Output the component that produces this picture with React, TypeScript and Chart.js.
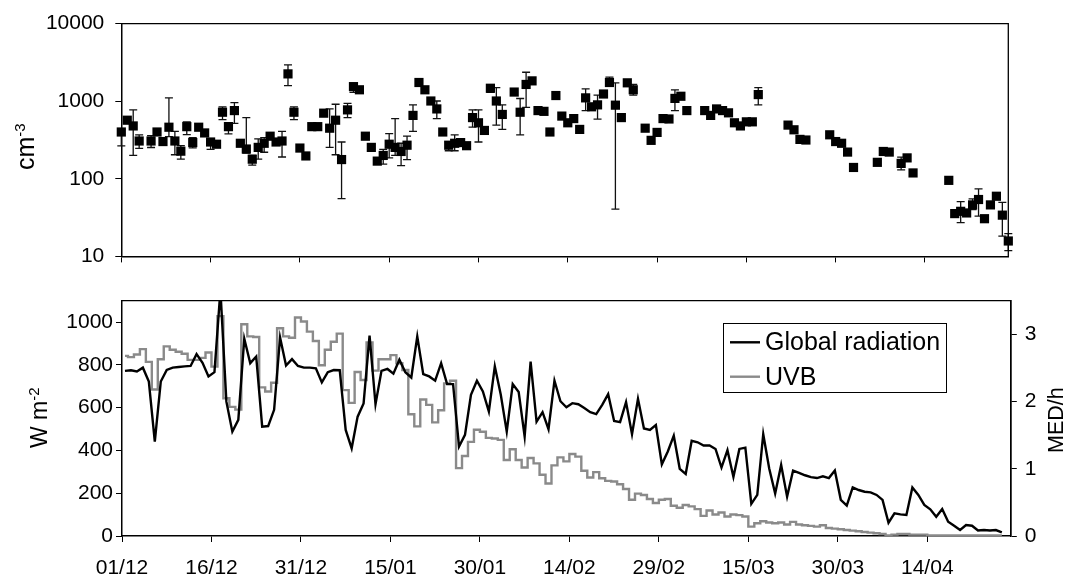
import React, { useEffect, useRef } from 'react';
import { Chart, registerables } from 'chart.js';

Chart.register(...registerables);

const FONT = "'Liberation Sans', Arial, Helvetica, sans-serif";
Chart.defaults.font.family = FONT;

// ---- x axis: days counted from 01/12 ----
const tickDays = [0, 15, 30, 45, 60, 75, 90, 105, 120, 135];
const tickLabels = ['01/12', '16/12', '31/12', '15/01', '30/01', '14/02', '29/02', '15/03', '30/03', '14/04'];
const xMaxDay = 149;

// ---- y axes ----
const concTicks = [10, 100, 1000, 10000];
const concTickLabels = ['10', '100', '1000', '10000'];
const radTicks = [0, 200, 400, 600, 800, 1000];
const radTickLabels = ['0', '200', '400', '600', '800', '1000'];
const uvbTicks = [0, 1, 2, 3];
const uvbTickLabels = ['0', '1', '2', '3'];

// ---- axis titles / legend ----
const concTitle = ['cm', '-3'];
const radTitle = ['W m', '-2'];
const uvbTitle = 'MED/h';
const seriesLabels = ['Global radiation', 'UVB'];

// ---- top panel: concentration (cm-3) ----
const concDays = [0, 1, 2, 3, 5, 6, 7, 8, 9, 10, 11, 12, 13, 14, 15, 16, 17, 18, 19, 20,
  21, 22, 23, 24, 25, 26, 27, 28, 29, 30, 31, 32, 33, 34, 35, 36, 37, 38, 39, 40,
  41, 42, 43, 44, 45, 46, 47, 48, 49, 50, 51, 52, 53, 54, 55, 56, 57, 58, 59, 60,
  61, 62, 63, 64, 66, 67, 68, 69, 70, 71, 72, 73, 74, 75, 76, 77, 78, 79, 80, 81,
  82, 83, 84, 85, 86, 88, 89, 90, 91, 92, 93, 94, 95, 98, 99, 100, 101, 102, 103, 104,
  105, 106, 107, 112, 113, 114, 115, 119, 120, 121, 122, 123, 127, 128, 129, 131, 132, 133, 139, 140,
  141, 142, 143, 144, 145, 146, 147, 148, 149];
const concValues = [401, 569, 480, 307, 307, 401, 302, 462, 307, 227, 470, 293, 462, 390, 298, 279, 721, 470, 757, 287,
  242, 179, 254, 287, 354, 298, 307, 2249, 721, 249, 197, 470, 470, 701, 449, 569, 177, 773, 1541, 1403,
  354, 254, 169, 200, 279, 254, 225, 271, 656, 1742, 1403, 1006, 795, 401, 271, 287, 293, 267, 615, 527,
  420, 1469, 1006, 675, 1312, 721, 1644, 1828, 757, 740, 401, 1183, 643, 527, 597, 433, 1104, 847, 897, 1238,
  1742, 889, 615, 1725, 1403, 449, 313, 396, 597, 590, 1086, 1158, 757, 757, 656, 795, 757, 708, 527, 480,
  542, 542, 1217, 492, 428, 322, 316, 369, 302, 287, 221, 140, 163, 225, 221, 158, 186, 119, 95.5, 35.6,
  38.1, 36.3, 46.1, 54.1, 30.6, 46.1, 59.6, 34, 15.8];

// error bars (day, lower, upper)
const errDays = [0, 2, 3, 5, 8, 9, 10, 11, 12, 15, 17, 18, 19, 21, 22, 23, 24, 27, 28, 29,
  35, 36, 37, 38, 39, 44, 45, 46, 47, 48, 49, 53, 55, 56, 59, 60, 62, 63, 64, 67,
  68, 70, 78, 80, 82, 83, 86, 93, 107, 131, 141, 143, 144, 148, 149];
const errLow = [266, 200, 247, 253, 350, 204, 179, 370, 250, 240, 580, 380, 518, 215, 150, 179, 220, 191, 1585, 580,
  254, 204, 55.6, 615, 1300, 155, 186, 200, 148, 177, 408, 597, 230, 230, 462, 298, 1300, 492, 433, 369,
  833, 700, 757, 587, 1600, 40.6, 1200, 757, 897, 130, 27.3, 40, 33, 18.3, 11.9];
const errHigh = [430, 773, 369, 360, 1104, 408, 267, 542, 340, 330, 847, 530, 957, 615, 200, 326, 340, 408, 2938, 847,
  795, 913, 298, 935, 1650, 240, 382, 597, 287, 354, 897, 1006, 300, 369, 773, 773, 1550, 1496, 897, 1084,
  2360, 800, 1444, 1194, 2046, 1725, 1650, 1403, 1496, 190, 50.7, 55, 74, 49.7, 19.6];

// ---- bottom panel: daily values from 01/12 ----
const radiation = [772, 775, 769, 787, 722, 441, 722, 776, 787, 790,
  793, 795, 850, 810, 746, 766, 1150, 628, 488, 543,
  922, 808, 839, 511, 514, 590, 928, 797, 827, 795,
  787, 787, 784, 718, 766, 776, 775, 496, 410, 558,
  620, 937, 616, 772, 781, 759, 824, 766, 741, 933,
  757, 746, 726, 808, 710, 710, 418, 473, 660, 726,
  676, 582, 793, 660, 488, 710, 673, 465, 815, 535,
  579, 499, 726, 630, 602, 621, 616, 598, 579, 570,
  613, 663, 538, 532, 626, 476, 641, 503, 496, 519,
  335, 395, 469, 314, 290, 445, 438, 423, 423, 407,
  320, 401, 276, 407, 413, 150, 192, 476, 316, 199,
  332, 184, 306, 295, 284, 275, 271, 279, 271, 306,
  169, 142, 227, 215, 207, 204, 192, 169, 62, 106,
  101, 98, 227, 192, 145, 125, 90, 126, 67, 48,
  28, 51, 48, 26, 28, 26, 28, 17];
const uvb = [2.68, 2.66, 2.70, 2.78, 2.59, 2.18, 2.63, 2.82, 2.77, 2.74,
  2.71, 2.62, 2.62, 2.65, 2.73, 2.52, 3.27, 2.05, 1.92, 1.88,
  3.15, 2.97, 2.96, 2.21, 2.15, 2.28, 3.09, 2.97, 2.95, 3.25,
  3.19, 3.04, 2.90, 2.54, 2.77, 2.89, 3.01, 2.17, 1.98, 2.44,
  2.32, 2.88, 2.46, 2.63, 2.63, 2.69, 2.57, 2.47, 1.81, 1.63,
  2.03, 1.95, 1.69, 1.87, 2.27, 2.31, 1.01, 1.19, 1.40, 1.58,
  1.55, 1.46, 1.45, 1.43, 1.13, 1.29, 1.13, 1.02, 1.16, 1.08,
  0.91, 0.78, 1.05, 1.17, 1.11, 1.22, 1.18, 0.97, 0.87, 0.95,
  0.86, 0.82, 0.81, 0.77, 0.70, 0.54, 0.63, 0.61, 0.55, 0.49,
  0.54, 0.55, 0.45, 0.42, 0.46, 0.44, 0.40, 0.30, 0.38, 0.32,
  0.35, 0.29, 0.32, 0.31, 0.29, 0.14, 0.19, 0.22, 0.20, 0.19,
  0.20, 0.17, 0.21, 0.17, 0.16, 0.15, 0.14, 0.16, 0.12, 0.11,
  0.10, 0.09, 0.08, 0.07, 0.06, 0.05, 0.04, 0.03, 0.01, 0.02,
  0.03, 0.03, 0.02, 0.02, 0.02, 0.01, 0.01, 0.01, 0.01, 0.01,
  0.01, 0.01, 0.01, 0.01, 0.01, 0.01, 0.01, 0.01];

const RAD_COLOR = '#000000';
const UVB_COLOR = '#8a8a8a';

const axisGrid = { drawOnChartArea: false, drawTicks: true, tickLength: 6, color: '#000', lineWidth: 1 };
const axisBorder = { display: true, color: '#000', width: 1.5 };

function labelFrom(values: number[], labels: string[]) {
  return (v: any) => {
    const k = values.indexOf(Number(v));
    return k >= 0 ? labels[k] : '';
  };
}

function drawRotatedTitle(ctx: CanvasRenderingContext2D, parts: string[], baseX: number, startY: number, size: number, supSize: number, raise: number) {
  ctx.save();
  ctx.translate(baseX, startY);
  ctx.rotate(-Math.PI / 2);
  ctx.fillStyle = '#000';
  ctx.textBaseline = 'alphabetic';
  ctx.textAlign = 'left';
  let x = 0;
  parts.forEach((p, i) => {
    const sup = i > 0;
    ctx.font = `${sup ? supSize : size}px ${FONT}`;
    ctx.fillText(p, x, sup ? -raise : 0);
    x += ctx.measureText(p).width;
  });
  ctx.restore();
}

const framePlugin = {
  id: 'frameBox',
  afterDraw(chart: any) {
    const { ctx, chartArea: a } = chart;
    ctx.save();
    ctx.strokeStyle = '#000';
    ctx.lineWidth = 1.3;
    ctx.beginPath();
    ctx.moveTo(a.left, a.top);
    ctx.lineTo(a.right, a.top);
    ctx.lineTo(a.right, a.bottom);
    ctx.stroke();
    ctx.restore();
  },
};

const errorBarPlugin = {
  id: 'errorBars',
  beforeDatasetsDraw(chart: any) {
    const { ctx } = chart;
    const xs = chart.scales.x;
    const ys = chart.scales.y;
    ctx.save();
    ctx.strokeStyle = '#111';
    ctx.lineWidth = 1.3;
    errDays.forEach((d, i) => {
      const px = xs.getPixelForValue(d);
      const y1 = ys.getPixelForValue(errLow[i]);
      const y2 = ys.getPixelForValue(errHigh[i]);
      ctx.beginPath();
      ctx.moveTo(px, y1);
      ctx.lineTo(px, y2);
      ctx.moveTo(px - 4, y1);
      ctx.lineTo(px + 4, y1);
      ctx.moveTo(px - 4, y2);
      ctx.lineTo(px + 4, y2);
      ctx.stroke();
    });
    ctx.restore();
  },
};

const topTitlePlugin = {
  id: 'topTitle',
  afterDraw(chart: any) {
    drawRotatedTitle(chart.ctx, concTitle, 33.5, 170, 25, 15, 9);
  },
};

const bottomDecorPlugin = {
  id: 'bottomDecor',
  afterDraw(chart: any) {
    const ctx = chart.ctx as CanvasRenderingContext2D;
    drawRotatedTitle(ctx, radTitle, 46.7, 168, 23, 15, 8);
    drawRotatedTitle(ctx, [uvbTitle], 1063, 173, 21.5, 15, 7);
    // legend box
    ctx.save();
    ctx.fillStyle = '#fff';
    ctx.fillRect(723.5, 43.5, 223, 69);
    ctx.strokeStyle = '#000';
    ctx.lineWidth = 1;
    ctx.strokeRect(723.5, 43.5, 223, 69);
    const rows = [62.3, 96.7];
    const colors = [RAD_COLOR, UVB_COLOR];
    ctx.font = `25px ${FONT}`;
    ctx.textBaseline = 'middle';
    ctx.textAlign = 'left';
    seriesLabels.forEach((lab, i) => {
      ctx.strokeStyle = colors[i];
      ctx.lineWidth = 2.4;
      ctx.beginPath();
      ctx.moveTo(730, rows[i]);
      ctx.lineTo(760, rows[i]);
      ctx.stroke();
      ctx.fillStyle = '#000';
      ctx.fillText(lab, 765, rows[i] + 1);
    });
    ctx.restore();
  },
};

export default function App() {
  const topRef = useRef<HTMLCanvasElement>(null);
  const botRef = useRef<HTMLCanvasElement>(null);

  useEffect(() => {
    const top = new Chart(topRef.current as HTMLCanvasElement, {
      type: 'scatter',
      data: {
        datasets: [
          {
            label: 'cm-3',
            data: concDays.map((d, i) => ({ x: d, y: concValues[i] })),
            pointStyle: 'rect',
            pointRadius: 6.5,
            pointHoverRadius: 6.5,
            backgroundColor: '#000',
            borderColor: '#000',
            borderWidth: 0,
            clip: false as any,
          },
        ],
      },
      options: {
        responsive: false,
        animation: false,
        devicePixelRatio: 1,
        events: [],
        layout: { padding: { top: 19.3, right: 58.7, left: 0, bottom: 0 } },
        plugins: { legend: { display: false }, tooltip: { enabled: false } },
        scales: {
          x: {
            type: 'linear',
            min: 0,
            max: xMaxDay,
            afterBuildTicks: (s: any) => { s.ticks = tickDays.map((v) => ({ value: v })); },
            afterFit: (s: any) => { s.height = 18; },
            ticks: { display: false },
            grid: axisGrid as any,
            border: axisBorder as any,
          },
          y: {
            type: 'logarithmic',
            min: 10,
            max: 10000,
            afterBuildTicks: (s: any) => { s.ticks = concTicks.map((v) => ({ value: v })); },
            afterFit: (s: any) => { s.width = 121.3; },
            ticks: {
              callback: labelFrom(concTicks, concTickLabels),
              font: { size: 21, family: FONT },
              color: '#000',
              padding: 11,
            },
            grid: axisGrid as any,
            border: axisBorder as any,
          },
        },
      },
      plugins: [errorBarPlugin, framePlugin, topTitlePlugin],
    });

    const bottom = new Chart(botRef.current as HTMLCanvasElement, {
      type: 'line',
      data: {
        datasets: [
          {
            label: seriesLabels[0],
            data: radiation.map((v, i) => ({ x: i + 0.5, y: v })),
            yAxisID: 'y',
            borderColor: RAD_COLOR,
            borderWidth: 2.4,
            pointRadius: 0,
            tension: 0,
          },
          {
            label: seriesLabels[1],
            data: uvb.map((v, i) => ({ x: i + 0.5, y: v })),
            yAxisID: 'y2',
            borderColor: UVB_COLOR,
            borderWidth: 2.4,
            pointRadius: 0,
            stepped: 'middle',
          },
        ],
      },
      options: {
        responsive: false,
        animation: false,
        devicePixelRatio: 1,
        events: [],
        layout: { padding: { top: 20.7, right: 0, left: 0, bottom: 0 } },
        plugins: { legend: { display: false }, tooltip: { enabled: false } },
        scales: {
          x: {
            type: 'linear',
            min: 0,
            max: xMaxDay,
            afterBuildTicks: (s: any) => { s.ticks = tickDays.map((v) => ({ value: v })); },
            afterFit: (s: any) => { s.height = 45; },
            ticks: {
              callback: labelFrom(tickDays, tickLabels),
              font: { size: 21, family: FONT },
              color: '#000',
              padding: 14,
              maxRotation: 0,
              autoSkip: false,
            },
            grid: axisGrid as any,
            border: axisBorder as any,
          },
          y: {
            type: 'linear',
            position: 'left',
            min: 0,
            max: 1100,
            afterBuildTicks: (s: any) => { s.ticks = radTicks.map((v) => ({ value: v })); },
            afterFit: (s: any) => { s.width = 122; },
            ticks: { callback: labelFrom(radTicks, radTickLabels), font: { size: 21, family: FONT }, color: '#000', padding: 3 },
            grid: axisGrid as any,
            border: axisBorder as any,
          },
          y2: {
            type: 'linear',
            position: 'right',
            min: 0,
            max: 3.5,
            afterBuildTicks: (s: any) => { s.ticks = uvbTicks.map((v) => ({ value: v })); },
            afterFit: (s: any) => { s.width = 56.2; },
            ticks: { callback: labelFrom(uvbTicks, uvbTickLabels), font: { size: 21, family: FONT }, color: '#000', padding: 8 },
            grid: axisGrid as any,
            border: axisBorder as any,
          },
        },
      },
      plugins: [framePlugin, bottomDecorPlugin],
    });

    return () => {
      top.destroy();
      bottom.destroy();
    };
  }, []);

  return (
    <div style={{ position: 'absolute', left: 0, top: 0, width: 1067, height: 581, background: '#fff', overflow: 'hidden' }}>
      <canvas ref={topRef} width={1067} height={280} style={{ position: 'absolute', left: 0, top: 0, display: 'block' }} />
      <canvas ref={botRef} width={1067} height={301} style={{ position: 'absolute', left: 0, top: 280, display: 'block' }} />
    </div>
  );
}
